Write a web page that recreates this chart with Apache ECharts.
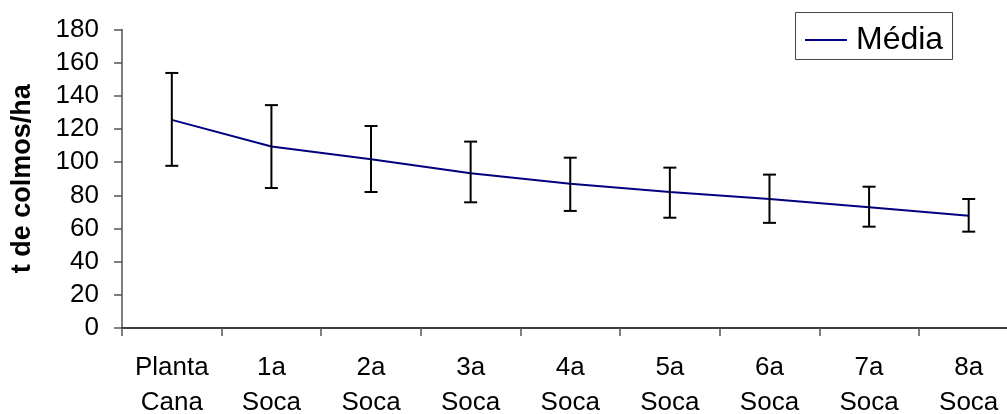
<!DOCTYPE html>
<html>
<head>
<meta charset="utf-8">
<script src="https://cdn.jsdelivr.net/npm/echarts@6/dist/echarts.min.js"></script>
<style>
  html, body { margin: 0; padding: 0; background: #fff; }
  #chart { width: 1007px; height: 414px; }
</style>
</head>
<body>
<div id="chart"></div>
<script>
// Cane yield (t de colmos/ha) by harvest cycle, mean with error range
const categories = ['Planta\nCana', '1a\nSoca', '2a\nSoca', '3a\nSoca', '4a\nSoca', '5a\nSoca', '6a\nSoca', '7a\nSoca', '8a\nSoca'];
const mediaValues = [125.5, 109.4, 101.7, 93.3, 87.0, 82.0, 77.8, 72.8, 67.7];
const upperValues = [153.8, 134.4, 121.8, 112.4, 102.7, 96.7, 92.5, 85.2, 77.8];
const lowerValues = [97.8, 84.4, 82.0, 75.8, 70.6, 66.5, 63.4, 61.1, 58.1];
const yTicks = { min: 0, max: 180, interval: 20 };

const FONT = 'Liberation Sans, Arial, sans-serif';

const errorData = categories.map((c, i) => [i, lowerValues[i], upperValues[i]]);

const chart = echarts.init(document.getElementById('chart'), null, { renderer: 'canvas' });

chart.setOption({
  animation: false,
  backgroundColor: '#ffffff',
  grid: {
    left: 122, top: 29.5, bottom: 86, right: -11.5,
    containLabel: false,
    outerBoundsMode: 'none'
  },
  // legend frame
  graphic: [{
    type: 'rect',
    left: 795, top: 12,
    shape: { width: 157, height: 47 },
    style: { fill: '#fff', stroke: '#444', lineWidth: 1 },
    z: 0
  }],
  legend: {
    data: ['Média'],
    left: 805,
    top: 21,
    icon: 'rect',
    itemWidth: 42,
    itemHeight: 2,
    padding: 0,
    itemGap: 0,
    z: 10,
    textStyle: { fontFamily: FONT, fontSize: 32, color: '#000', lineHeight: 31, padding: [0, 0, 7, 4] }
  },
  xAxis: {
    type: 'category',
    data: categories,
    boundaryGap: true,
    axisLine: { lineStyle: { color: '#000', width: 1.5 } },
    axisTick: { show: true, length: 8, inside: false, lineStyle: { color: '#555', width: 1.5 } },
    axisLabel: { interval: 0, fontFamily: FONT, fontSize: 26, color: '#000', lineHeight: 35, margin: 22 },
    splitLine: { show: false }
  },
  yAxis: {
    type: 'value',
    min: yTicks.min,
    max: yTicks.max,
    interval: yTicks.interval,
    name: 't de colmos/ha',
    nameLocation: 'middle',
    nameGap: 86,
    nameRotate: 90,
    nameTextStyle: { fontFamily: FONT, fontSize: 27, fontWeight: 'bold', color: '#000' },
    axisLine: { show: true, lineStyle: { color: '#555', width: 1.5 } },
    axisTick: { show: true, length: 8, inside: false, lineStyle: { color: '#555', width: 1.5 } },
    axisLabel: { fontFamily: FONT, fontSize: 26, color: '#000', margin: 23 },
    splitLine: { show: false }
  },
  series: [
    {
      name: 'Média',
      type: 'line',
      data: mediaValues,
      symbol: 'none',
      color: '#000080',
      lineStyle: { color: '#000080', width: 2 },
      z: 3
    },
    {
      name: 'erro',
      type: 'custom',
      data: errorData,
      z: 4,
      renderItem: function (params, api) {
        const x = api.value(0);
        const lo = api.coord([x, api.value(1)]);
        const hi = api.coord([x, api.value(2)]);
        const cap = 6.5;
        const style = { stroke: '#000', lineWidth: 2 };
        return {
          type: 'group',
          children: [
            { type: 'line', shape: { x1: hi[0], y1: hi[1], x2: lo[0], y2: lo[1] }, style: style },
            { type: 'line', shape: { x1: hi[0] - cap, y1: hi[1], x2: hi[0] + cap, y2: hi[1] }, style: style },
            { type: 'line', shape: { x1: lo[0] - cap, y1: lo[1], x2: lo[0] + cap, y2: lo[1] }, style: style }
          ]
        };
      }
    }
  ]
});
</script>
</body>
</html>
